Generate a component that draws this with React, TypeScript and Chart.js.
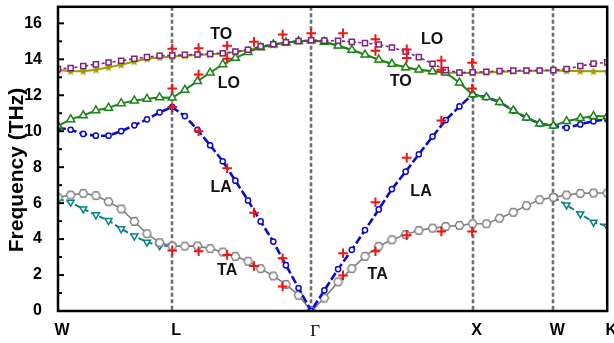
import React, { useEffect, useRef } from "react";
import { Chart, registerables } from "chart.js";
Chart.register(...registerables);

// Reduced path coordinate (W -> L -> Γ -> X -> W -> K), normalised to 0..1
const kPoints = [
  0, 0.023, 0.046, 0.069, 0.092, 0.115, 0.139, 0.162, 0.185, 0.208,
  0.231, 0.254, 0.277, 0.3, 0.323, 0.346, 0.369, 0.392, 0.415, 0.438, 0.461,
  0.485, 0.51, 0.535, 0.559, 0.584, 0.608, 0.633, 0.657, 0.682, 0.706, 0.731, 0.755,
  0.78, 0.804, 0.829, 0.853, 0.877, 0.902,
  0.926, 0.951, 0.975, 1.0,
];
const symLabels = ["W", "L", "Γ", "X", "W", "K"];
const symPos = [0, 0.208, 0.461, 0.755, 0.902, 1.0];
const yTickValues = [0, 2, 4, 6, 8, 10, 12, 14, 16];

// Calculated branches (THz)
const branchPurple = [
  13.46, 13.51, 13.62, 13.72, 13.82, 13.92, 14.03, 14.12, 14.2, 14.22,
  14.25, 14.27, 14.3, 14.34, 14.43, 14.53, 14.72, 14.84, 14.95, 15.02, 15.06,
  15.04, 15.03, 14.97, 14.9, 14.82, 14.66, 14.42, 14.12, 13.75, 13.4, 13.26, 13.28,
  13.31, 13.35, 13.37, 13.38, 13.38, 13.4,
  13.46, 13.63, 13.76, 13.83,
];
const branchOlive = [
  13.4, 13.33, 13.33, 13.42, 13.55, 13.7, 13.88, 14.03, 14.1, 14.16,
  14.2, 14.24, 14.28, 14.32, 14.4, 14.5, 14.68, 14.8, 14.92, 15.0, 15.05,
  14.97, 14.75, 14.52, 14.26, 13.98, 13.74, 13.55, 13.42, 13.33, 13.26, 13.24, 13.24,
  13.26, 13.3, 13.33, 13.35, 13.36, 13.38,
  13.36, 13.34, 13.33, 13.33,
];
const branchGreen = [
  10.3, 10.66, 10.88, 11.15, 11.3, 11.55, 11.7, 11.8, 11.88, 11.86,
  12.3, 12.78, 13.25, 13.72, 14.07, 14.4, 14.66, 14.82, 14.93, 15.0, 15.05,
  14.97, 14.75, 14.52, 14.26, 13.98, 13.74, 13.55, 13.42, 13.33, 13.26, 12.7, 12.04,
  11.89, 11.62, 11.15, 10.75, 10.42, 10.3,
  10.55, 10.72, 10.84, 10.82,
];
const branchBlue = [
  10.19, 10.08, 9.85, 9.75, 9.75, 10.0, 10.33, 10.66, 11.05, 11.34,
  10.84, 10.08, 9.22, 8.33, 7.25, 6.15, 4.98, 3.86, 2.55, 1.28, 0,
  1.15, 2.33, 3.4, 4.5, 5.65, 6.78, 7.75, 8.72, 9.7, 10.62, 11.38, 12.04,
  11.89, 11.62, 11.15, 10.75, 10.42, 10.3,
  10.19, 10.38, 10.56, 10.66,
];
const branchGray = [
  6.32, 6.45, 6.54, 6.42, 6.08, 5.68, 4.98, 4.3, 3.8, 3.61,
  3.61, 3.62, 3.47, 3.28, 3.04, 2.77, 2.36, 1.95, 1.48, 0.88, 0,
  0.72, 1.62, 2.36, 3.04, 3.6, 3.96, 4.26, 4.48, 4.61, 4.7, 4.76, 4.85,
  4.85, 5.16, 5.49, 5.86, 6.19, 6.32,
  6.45, 6.54, 6.56, 6.56,
];
const branchTeal = [
  6.23, 6.05, 5.68, 5.35, 5.03, 4.57, 4.17, 3.83, 3.63, 3.61,
  null, null, null, null, null, null, null, null, null, null, null,
  null, null, null, null, null, null, null, null, null, null, null, null,
  null, null, null, null, null, 6.32,
  5.9, 5.4, 4.94, 4.72,
];

// Experimental points
const expK = [
  0.208, 0.208, 0.208, 0.208,
  0.256, 0.256, 0.256, 0.256,
  0.308, 0.308, 0.308, 0.308,
  0.357, 0.357, 0.357,
  0.409, 0.409, 0.409,
  0.461,
  0.519, 0.519, 0.519,
  0.578, 0.578, 0.578, 0.578,
  0.635, 0.635, 0.635, 0.635,
  0.698, 0.698, 0.698, 0.698,
  0.754, 0.754, 0.754,
];
const expFreq = [
  14.58, 12.37, 11.34, 3.37,
  14.62, 13.15, 10.0, 3.32,
  14.75, 14.03, 7.94, 3.12,
  14.97, 5.47, 2.5,
  15.38, 2.93, 1.36,
  15.45,
  15.45, 3.21, 1.98,
  15.12, 14.47, 6.05, 3.32,
  14.55, 14.07, 8.52, 4.22,
  13.93, 13.42, 10.6, 4.42,
  13.81, 12.37, 4.42,
];

// Branch labels
const branchNames = ["TO", "LO", "LA", "TA", "LO", "TO", "LA", "TA"];
const branchNameK = [0.297, 0.311, 0.297, 0.308, 0.681, 0.624, 0.661, 0.582];
const branchNameF = [15.36, 12.66, 6.84, 2.23, 15.08, 12.78, 6.64, 2.03];

const SANS = '"Liberation Sans", Arial, sans-serif';

function makeHexagon(): HTMLCanvasElement {
  const c = document.createElement("canvas");
  c.width = 11;
  c.height = 11;
  const g = c.getContext("2d")!;
  g.beginPath();
  for (let i = 0; i < 6; i++) {
    const a = (Math.PI / 3) * i;
    const px = 5.5 + 4.3 * Math.cos(a);
    const py = 5.5 + 4.3 * Math.sin(a);
    if (i === 0) g.moveTo(px, py);
    else g.lineTo(px, py);
  }
  g.closePath();
  g.fillStyle = "#ffffff";
  g.fill();
  g.lineWidth = 1.4;
  g.strokeStyle = "#808080";
  g.stroke();
  return c;
}

function makeStar(): HTMLCanvasElement {
  const c = document.createElement("canvas");
  c.width = 10;
  c.height = 10;
  const g = c.getContext("2d")!;
  g.beginPath();
  for (let i = 0; i < 10; i++) {
    const r = i % 2 === 0 ? 4.6 : 2.0;
    const a = -Math.PI / 2 + (Math.PI / 5) * i;
    const px = 5 + r * Math.cos(a);
    const py = 5.3 + r * Math.sin(a);
    if (i === 0) g.moveTo(px, py);
    else g.lineTo(px, py);
  }
  g.closePath();
  g.fillStyle = "#9c9c00";
  g.fill();
  return c;
}

const decorPlugin = {
  id: "decor",
  beforeDatasetsDraw(chart: any) {
    const { ctx, chartArea, scales } = chart;
    const { top, bottom } = chartArea;
    ctx.save();
    ctx.strokeStyle = "#6e6e6e";
    ctx.lineWidth = 2.6;
    ctx.setLineDash([4, 2.5]);
    symPos.slice(1, -1).forEach((k) => {
      const px = Math.round(scales.x.getPixelForValue(k));
      ctx.beginPath();
      ctx.moveTo(px, top);
      ctx.lineTo(px, bottom);
      ctx.stroke();
    });
    ctx.restore();
  },
  afterDatasetsDraw(chart: any) {
    const { ctx, chartArea, scales } = chart;
    const { left, right, top, bottom } = chartArea;
    ctx.save();
    // in-plot branch names
    ctx.fillStyle = "#111";
    ctx.font = `bold 16px ${SANS}`;
    ctx.textAlign = "center";
    ctx.textBaseline = "middle";
    branchNames.forEach((t, i) => {
      ctx.fillText(t, scales.x.getPixelForValue(branchNameK[i]), scales.y.getPixelForValue(branchNameF[i]));
    });
    // inward ticks
    ctx.strokeStyle = "#000";
    ctx.lineWidth = 2;
    for (let v = 0; v <= 16; v++) {
      const py = scales.y.getPixelForValue(v);
      const len = v % 2 === 0 ? 6 : 4;
      ctx.beginPath();
      ctx.moveTo(left, py);
      ctx.lineTo(left + len, py);
      ctx.stroke();
    }
    // frame
    ctx.lineWidth = 2.5;
    ctx.strokeRect(left, top, right - left, bottom - top);
    // axis title
    ctx.translate(17, 170);
    ctx.rotate(-Math.PI / 2);
    ctx.fillStyle = "#000";
    ctx.font = `bold 21px ${SANS}`;
    ctx.textAlign = "center";
    ctx.textBaseline = "middle";
    ctx.fillText("Frequency (THz)", 0, 0);
    ctx.restore();
  },
};

export default function App() {
  const ref = useRef<HTMLCanvasElement>(null);
  useEffect(() => {
    if (!ref.current) return;
    const pts = (ys: (number | null)[]) => kPoints.map((k, i) => ({ x: k, y: ys[i] }));
    const hex = makeHexagon();
    const star = makeStar();
    const chart = new Chart(ref.current, {
      type: "line",
      data: {
        datasets: [
          {
            label: "Expt.",
            data: expK.map((k, i) => ({ x: k, y: expFreq[i] })),
            showLine: false,
            pointStyle: "cross",
            pointRadius: 4.8,
            pointBorderWidth: 2,
            pointBorderColor: "#f01414",
            borderColor: "#f01414",
          },
          {
            label: "LO",
            data: pts(branchPurple),
            borderColor: "#80207f",
            borderWidth: 1.6,
            borderDash: [3, 2.5],
            pointStyle: "rect",
            pointRadius: 3.6,
            pointBorderWidth: 1.5,
            pointBorderColor: "#80207f",
            pointBackgroundColor: "#ffffff",
          },
          {
            label: "green",
            data: pts(branchGreen),
            borderColor: "#1a841a",
            borderWidth: 2,
            pointStyle: "triangle",
            pointRadius: 4.6,
            pointBorderWidth: 1.5,
            pointBorderColor: "#1a841a",
            pointBackgroundColor: "#ffffff",
          },
          {
            label: "TO",
            data: pts(branchOlive),
            borderColor: "#9c9c00",
            borderWidth: 2,
            pointStyle: star as any,
            pointRadius: 4,
          },
          {
            label: "LA",
            data: pts(branchBlue),
            borderColor: "#0a0ad0",
            borderWidth: 2.6,
            borderDash: [8, 3],
            pointStyle: "circle",
            pointRadius: 2.6,
            pointBorderWidth: 1.5,
            pointBorderColor: "#0a0ad0",
            pointBackgroundColor: "#ffffff",
          },
          {
            label: "TA1",
            data: pts(branchGray),
            borderColor: "#808080",
            borderWidth: 1.6,
            pointStyle: hex as any,
            pointRadius: 4,
          },
          {
            label: "TA2",
            data: pts(branchTeal),
            borderColor: "#0a8080",
            borderWidth: 2,
            borderDash: [6, 3],
            spanGaps: false,
            pointStyle: "triangle",
            rotation: 180,
            pointRadius: 4,
            pointBorderWidth: 1.5,
            pointBorderColor: "#0a8080",
            pointBackgroundColor: "#ffffff",
          },
        ] as any,
      },
      options: {
        animation: false,
        responsive: false,
        layout: { padding: { top: 5, right: 6, left: 0, bottom: 0 } },
        plugins: { legend: { display: false }, tooltip: { enabled: false } },
        elements: { line: { tension: 0 } },
        scales: {
          x: {
            type: "linear",
            min: 0,
            max: 1,
            grid: { display: false },
            border: { display: false },
            afterBuildTicks: (s: any) => {
              s.ticks = symPos.map((v) => ({ value: v }));
            },
            afterFit: (s: any) => {
              s.height = 32;
              s.paddingLeft = 0;
              s.paddingRight = 0;
            },
            ticks: {
              autoSkip: false,
              maxRotation: 0,
              padding: 2,
              labelOffset: 4,
              color: "#000",
              callback: (_v: any, i: number) => symLabels[i],
              font: (c: any) =>
                symLabels[c.index] === "Γ"
                  ? { family: '"Liberation Serif", "Times New Roman", serif', size: 17, weight: "normal" }
                  : { family: SANS, size: 16, weight: "bold" },
            },
          },
          y: {
            type: "linear",
            min: 0,
            max: 16.92,
            grid: { display: false },
            border: { display: false },
            afterBuildTicks: (s: any) => {
              s.ticks = yTickValues.map((v) => ({ value: v }));
            },
            afterFit: (s: any) => {
              s.width = 58;
              s.paddingTop = 0;
              s.paddingBottom = 0;
            },
            ticks: {
              padding: 8,
              color: "#000",
              font: { family: SANS, size: 16, weight: "bold" },
            },
          },
        },
      } as any,
      plugins: [decorPlugin],
    });
    return () => chart.destroy();
  }, []);
  return (
    <div style={{ position: "absolute", left: 0, top: 0, width: 614, height: 343, background: "#fff" }}>
      <canvas ref={ref} width={614} height={343} style={{ display: "block" }} />
    </div>
  );
}
